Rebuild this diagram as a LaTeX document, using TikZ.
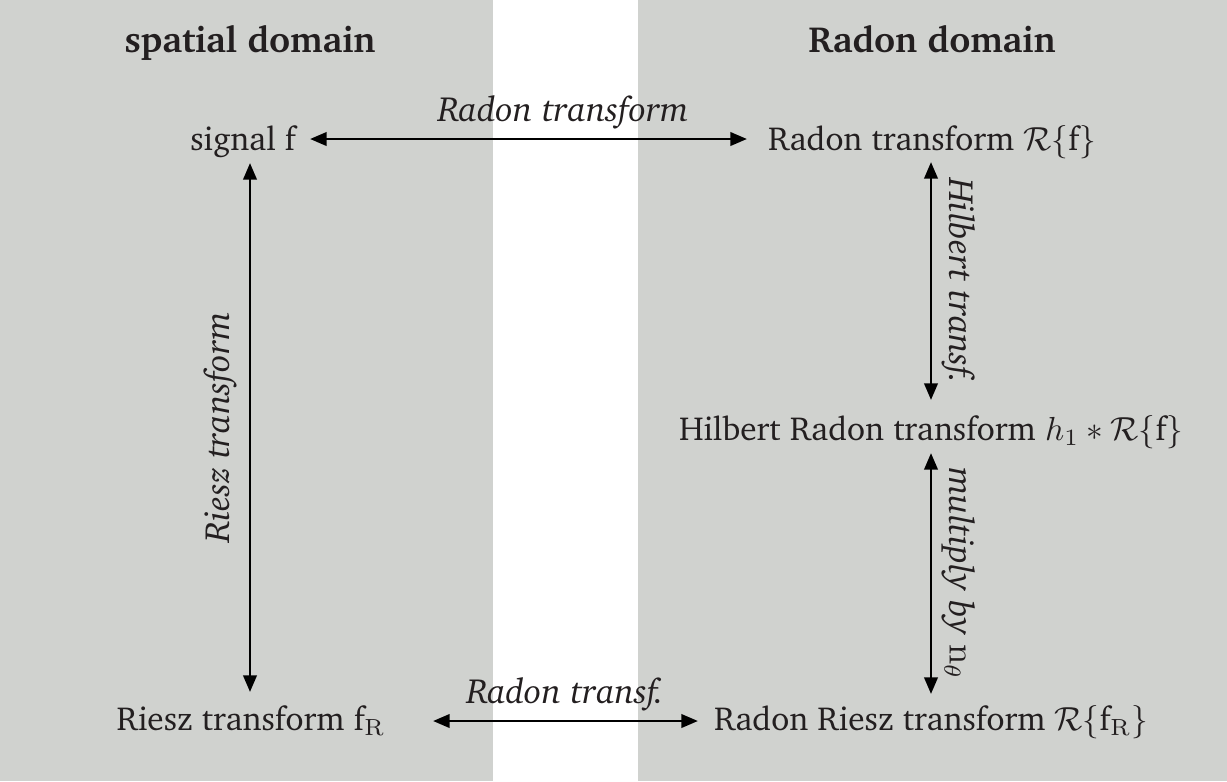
\documentclass[tikz,border=0pt]{standalone}
\usepackage[T1]{fontenc}
\usepackage{charter}
\usetikzlibrary{arrows.meta}
\definecolor{panel}{RGB}{208,210,207}
\definecolor{ink}{RGB}{35,31,32}
\begin{document}
\begin{tikzpicture}[x=0.3pt,y=-0.3pt,
  lbl/.style={inner sep=1pt,text=ink,anchor=base},
  head/.style={inner sep=1pt,text=ink,anchor=base,font=\fontsize{10.9}{13}\selectfont\bfseries},
  arr/.style={{Triangle[length=5pt,width=4pt]}-{Triangle[length=5pt,width=4pt]},line width=0.85pt,black},
  ital/.style={inner sep=1pt,text=ink,font=\fontsize{10.5}{12.5}\selectfont\itshape}]
\useasboundingbox (0,0) rectangle (1227,781);
\fill[panel] (0,0) rectangle (493,781);
\fill[panel] (638,0) rectangle (1227,781);
\node[head] (sd) at (250,52) {spatial domain};
\node[head] (rd) at (932,52) {Radon domain};
\node[lbl] (sig) at (243,150) {signal f};
\node[lbl] (rt) at (932,150) {Radon transform $\mathcal{R}\{\textnormal{f}\}$};
\node[lbl] (hrt) at (931,440) {Hilbert Radon transform $h_1*\mathcal{R}\{\textnormal{f}\}$};
\node[lbl] (rz) at (251,730) {Riesz transform f$_{\mathrm{R}}$};
\node[lbl] (rrt) at (931,730) {Radon Riesz transform $\mathcal{R}\{\textnormal{f}_{\mathrm{R}}\}$};
\coordinate (a1) at (310,139); \coordinate (a2) at (747,139);
\draw[arr] (a1) -- node[ital,above=1.5pt,pos=0.58] {Radon transform} (a2);
\coordinate (b1) at (433,721); \coordinate (b2) at (698,721);
\draw[arr] (b1) -- node[ital,above=1.5pt] {Radon transf.} (b2);
\coordinate (c1) at (250,163); \coordinate (c2) at (250,692);
\draw[arr] (c1) -- node[ital,rotate=90,anchor=south,yshift=2.5pt] {Riesz transform} (c2);
\coordinate (d1) at (931,162); \coordinate (d2) at (931,400);
\draw[arr] (d1) -- node[ital,rotate=-90,anchor=south,yshift=2pt] {Hilbert transf.} (d2);
\coordinate (e1) at (931,453); \coordinate (e2) at (931,694);
\draw[arr] (e1) -- node[ital,rotate=-90,anchor=south,yshift=2pt] {multiply by $\mathrm{n}_\theta$} (e2);
\end{tikzpicture}
\end{document}
